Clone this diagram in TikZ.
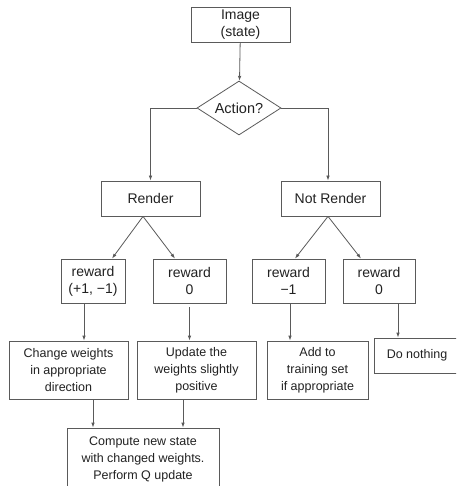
\documentclass[tikz,border=0pt]{standalone}
\usepackage{fontspec}
\setmainfont{Liberation Sans}
\usetikzlibrary{arrows.meta, shapes.geometric}
\definecolor{edge}{HTML}{5A5A5A}
\definecolor{label}{HTML}{222222}
\tikzset{
  box/.style={
    draw=edge, line width=0.8pt, inner sep=0pt, align=center,
    text=label, font=\fontsize{14}{17}\selectfont
  },
  wide/.style={
    box, font=\fontsize{12.5}{17}\selectfont
  },
  choice/.style={
    draw=edge, line width=0.8pt, diamond, inner sep=0pt, aspect=1.6,
    minimum width=84pt, minimum height=54pt,
    text=label, font=\fontsize{14.5}{17}\selectfont
  },
  arr/.style={draw=edge, line width=0.8pt, -{Latex[length=5pt,width=3.5pt]}}
}
\begin{document}
\begin{tikzpicture}[x=1pt, y=-1pt]
  \clip (0,0) rectangle (456,486);
  \fill[white] (0,0) rectangle (456,486);

  % ---- Input and decision --------------------------------------------------
  \node[box, minimum width=99pt, minimum height=35pt] (img) at (240.5, 24.5) {Image\\(state)};
  \node[choice] (act) at (239, 108) {Action?};

  % ---- Actions --------------------------------------------------------------
  \node[box, minimum width=99pt, minimum height=35pt] (render) at (150.5, 198.5) {Render};
  \node[box, minimum width=99pt, minimum height=35pt] (norender) at (330.5, 198.5) {Not Render};

  % ---- Rewards --------------------------------------------------------------
  \node[box, minimum width=64pt, minimum height=44pt] (rw1) at (93, 281) {reward\\(+1, −1)};
  \node[box, minimum width=73pt, minimum height=44pt] (rw2) at (189.5, 281) {reward\\0};
  \node[box, minimum width=73pt, minimum height=44pt] (rw3) at (288.5, 281) {reward\\−1};
  \node[box, minimum width=72pt, minimum height=44pt] (rw4) at (379, 281) {reward\\0};

  % ---- Responses ------------------------------------------------------------
  \node[wide, minimum width=119pt, minimum height=58pt] (chg) at (68.5, 370) {Change weights\\in appropriate\\direction};
  \node[wide, minimum width=119pt, minimum height=58pt] (upd) at (196.5, 370) {Update the\\weights slightly\\positive};
  \node[wide, minimum width=101pt, minimum height=58pt] (add) at (317.5, 370) {Add to\\training set\\if appropriate};
  \node[wide, minimum width=86pt, minimum height=35pt] (none) at (417, 355.5) {Do nothing};

  % ---- Update ---------------------------------------------------------------
  \node[wide, minimum width=152pt, minimum height=62pt] (cmp) at (143, 459) {Compute new state\\with changed weights.\\Perform Q update};

  % ---- Connectors -----------------------------------------------------------
  \draw[arr] (img) -- (act);
  \draw[arr] (act.west) -| (render.north);
  \draw[arr] (act.east) -| ([xshift=-2.5]norender.north);

  \draw[arr] ([xshift=-7.5]render.south) -- ([xshift=19]rw1.north);
  \draw[arr] ([xshift=-7.5]render.south) -- ([xshift=-14.5]rw2.north);
  \draw[arr] ([xshift=-2.5]norender.south) -- ([xshift=6.5]rw3.north);
  \draw[arr] ([xshift=-2.5]norender.south) -- ([xshift=-18]rw4.north);

  \draw[arr] ([xshift=-9]rw1.south) -- ([xshift=-9]rw1.south |- chg.north);
  \draw[arr, shorten <=4pt] (rw2.south) -- (rw2.south |- upd.north);
  \draw[arr] ([xshift=1.5]rw3.south) -- ([xshift=1.5]rw3.south |- add.north);
  \draw[arr] ([xshift=19]rw4.south) -- ([xshift=19]rw4.south |- none.north);

  \draw[arr] ([xshift=24.5]chg.south) -- ([xshift=24.5]chg.south |- cmp.north);
  \draw[arr] ([xshift=-13.5]upd.south) -- ([xshift=-13.5]upd.south |- cmp.north);

\end{tikzpicture}
\end{document}
